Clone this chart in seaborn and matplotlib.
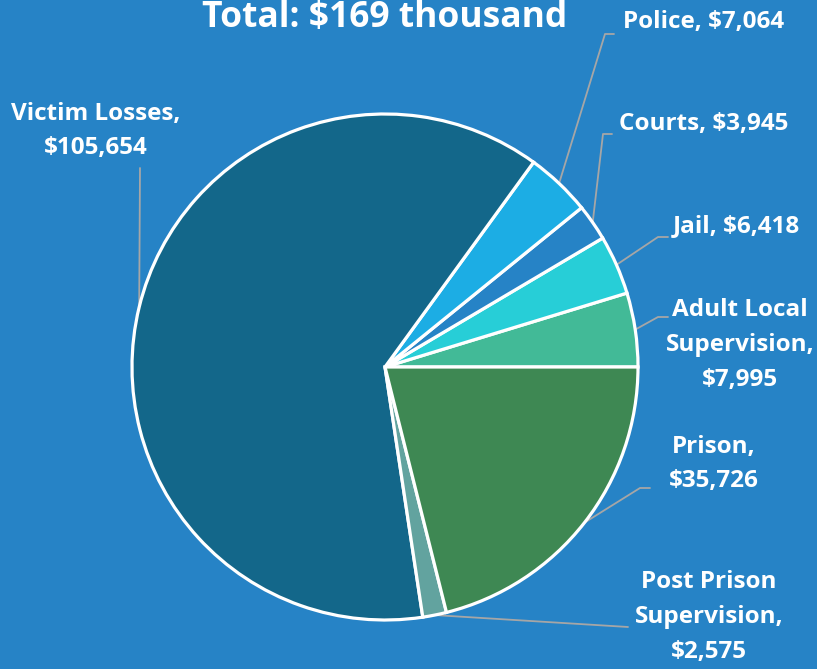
import numpy as np
import matplotlib
matplotlib.use("Agg")
import matplotlib.pyplot as plt
import seaborn as sns

# cost categories, counter-clockwise from 3 o'clock
categories = ["Adult Local\nSupervision,", "Jail,", "Courts,", "Police,", "Victim Losses,",
              "Post Prison\nSupervision,", "Prison,"]
values = [7995, 6418, 3945, 7064, 105654, 2575, 35726]
value_labels = ["$7,995", "$6,418", "$3,945", "$7,064", "$105,654", "$2,575", "$35,726"]
title_text = "Total: $169 thousand"

sns.set_style("white")
plt.rcParams['font.family'] = ['Open Sans', 'DejaVu Sans']

bg = "#2683C6"
colors = sns.color_palette(["#42BA97", "#27CED7", "#2683C6", "#1CADE4", "#13678A", "#62A39F", "#3E8853"])

W, H = 817, 669
fig = plt.figure(figsize=(W / 100, H / 100), dpi=100, facecolor=bg)
ax = fig.add_axes([0, 0, 1, 1])
ax.set_facecolor(bg)
cx, cy, R = 385, H - 367, 253
wedges, _ = ax.pie(values, colors=colors, startangle=0, counterclock=True,
                   radius=R, center=(cx, cy),
                   wedgeprops=dict(edgecolor="white", linewidth=2.3))
ax.set_xlim(0, W)
ax.set_ylim(0, H)
ax.set_aspect("equal")
ax.axis("off")

# label layout: (elbow point, end point, text position) in pixel coords (y down)
layout = {
    "Adult Local\nSupervision,": ((658, 317), (668, 317), (740, 345)),
    "Jail,": ((658, 237), (668, 237), (736, 226)),
    "Courts,": ((603, 134), (612, 134), (704, 124)),
    "Police,": ((605, 34), (614, 34), (704, 22)),
    "Victim Losses,": ((140, 168), (140, 168), (96, 131)),
    "Post Prison\nSupervision,": ((628, 627), (628, 627), (709, 617)),
    "Prison,": ((640, 488), (650, 488), (714, 464)),
}

for w, cat, vl in zip(wedges, categories, value_labels):
    ang = np.deg2rad((w.theta1 + w.theta2) / 2)
    x0, y0 = cx + R * np.cos(ang), cy + R * np.sin(ang)
    (ex, ey), (fx, fy), (tx, ty) = layout[cat]
    ax.plot([x0, ex, fx], [y0, H - ey, H - fy], color="#A6A6A6", lw=1.3, zorder=0.5)
    if cat in ("Jail,", "Courts,", "Police,"):
        txt = cat + " " + vl
    else:
        txt = cat + "\n" + vl
    ax.text(tx, H - ty, txt, ha="center", va="center", color="white", fontsize=17.5,
            fontweight="bold", linespacing=1.6)

ax.text(385, H - 27, title_text, ha="center", va="baseline", color="white",
        fontsize=25.5, fontweight="bold")

fig.savefig("out.png", dpi=100, facecolor=bg)
